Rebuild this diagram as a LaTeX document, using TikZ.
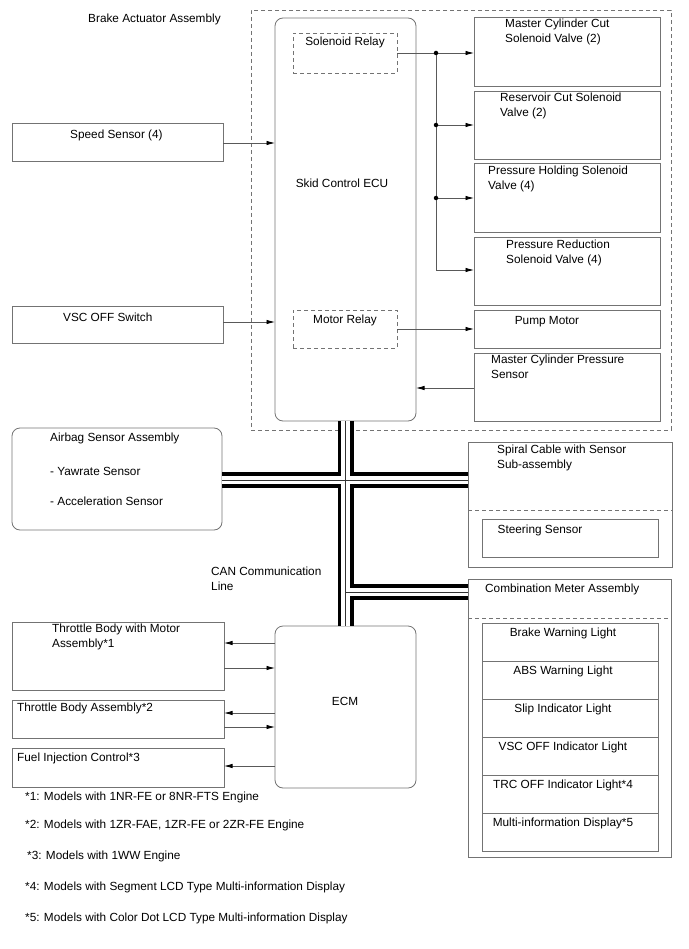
\documentclass[tikz,border=0pt]{standalone}
\usepackage{fontspec}
\setmainfont{Liberation Sans}
\usetikzlibrary{arrows.meta}
\begin{document}
\begin{tikzpicture}[x=1pt,y=-1pt,
  font=\fontsize{11.8}{15}\selectfont,
  box/.style={draw=black!55, line width=0.8pt, inner sep=0, outer sep=0, anchor=north west},
  rbox/.style={box, rounded corners=8pt},
  dbox/.style={box, dashed, dash pattern=on 4pt off 3pt},
  txt/.style={inner sep=0, align=left, yshift=-1.2pt},
  ln/.style={draw=black!65, line width=0.8pt},
  arr/.style={ln, -{Latex[length=8.5pt,width=4.5pt,color=black]}},
  dot/.style={circle, fill=black, inner sep=0, minimum size=4.5pt},
  canA/.style={line width=16pt, black},
  canB/.style={line width=8.5pt, white},
  canC/.style={line width=0.8pt, black!80},
]
\useasboundingbox (0,0) rectangle (688,949);

% ---------- Brake actuator assembly ----------
\node[dbox, minimum width=420, minimum height=420] (baa) at (251,10) {};
\node[txt, anchor=west] (baat) at (88,18) {Brake Actuator Assembly};

\node[rbox, minimum width=141, minimum height=403] (ecu) at (275,18) {};
\node[txt] (ecut) at (342,182) {Skid Control ECU};

\node[dbox, minimum width=104, minimum height=40] (solrel) at (293,33) {};
\node[txt] (solrelt) at (345,41) {Solenoid Relay};
\node[dbox, minimum width=104, minimum height=38] (motrel) at (293,310) {};
\node[txt] (motrelt) at (345,319) {Motor Relay};

% right boxes
\node[box, minimum width=186, minimum height=69] (mcc) at (474,17) {};
\node[txt, anchor=north west] (mcct) at (505,18) {Master Cylinder Cut\\Solenoid Valve (2)};
\node[box, minimum width=186, minimum height=68] (rcv) at (474,91) {};
\node[txt, anchor=north west] (rcvt) at (500,92) {Reservoir Cut Solenoid\\Valve (2)};
\node[box, minimum width=186, minimum height=69] (phv) at (474,163) {};
\node[txt, anchor=north west] (phvt) at (488,165) {Pressure Holding Solenoid\\Valve (4)};
\node[box, minimum width=186, minimum height=68] (prv) at (474,237) {};
\node[txt, anchor=north west] (prvt) at (506,239) {Pressure Reduction\\Solenoid Valve (4)};
\node[box, minimum width=186, minimum height=38] (pump) at (474,310) {};
\node[txt] (pumpt) at (547,320) {Pump Motor};
\node[box, minimum width=186, minimum height=68] (mcps) at (474,353) {};
\node[txt, anchor=north west] (mcpst) at (491,354) {Master Cylinder Pressure\\Sensor};

% solenoid relay distribution
\coordinate (j1) at (436,53);
\coordinate (j2) at (436,125);
\coordinate (j3) at (436,198);
\coordinate (j4) at (436,270);
\draw[ln] (solrel.east) -- (j1);
\draw[ln] (j1) -- (j4);
\draw[arr] (j1) -- (mcc.west |- j1);
\draw[arr] (j2) -- (rcv.west |- j2);
\draw[arr] (j3) -- (phv.west |- j3);
\draw[arr] (j4) -- (prv.west |- j4);
\node[dot] (d1) at (j1) {};
\node[dot] (d2) at (j2) {};
\node[dot] (d3) at (j3) {};

\draw[arr] (motrel.east) -- (pump.west |- motrel.east);
\draw[arr] (mcps.west |- 0,388) -- (ecu.east |- 0,388);

% left inputs
\node[box, minimum width=211, minimum height=38] (speed) at (12,123) {};
\node[txt, anchor=west] (speedt) at (70,134) {Speed Sensor (4)};
\draw[arr] (speed.east |- 0,143) -- (ecu.west |- 0,143);
\node[box, minimum width=211, minimum height=37] (vsc) at (12,306) {};
\node[txt, anchor=west] (vsct) at (63,316) {VSC OFF Switch};
\draw[arr] (vsc.east |- 0,322) -- (ecu.west |- 0,322);

% airbag
\node[rbox, minimum width=210, minimum height=102] (airbag) at (12,428) {};
\node[txt, anchor=west] (airbagt) at (50,437) {Airbag Sensor Assembly};
\node[txt, anchor=west] (yaw) at (50,470) {- Yawrate Sensor};
\node[txt, anchor=west] (acc) at (50,500) {- Acceleration Sensor};

% spiral cable
\node[box, minimum width=204, minimum height=125] (spiral) at (468,442) {};
\node[txt, anchor=north west] (spiralt) at (497,444) {Spiral Cable with Sensor\\Sub-assembly};
\draw[draw=black!55, line width=0.8pt, dash pattern=on 4pt off 3pt] (spiral.west |- 0,510) -- (spiral.east |- 0,510);
\node[box, minimum width=176, minimum height=38] (steer) at (482,519) {};
\node[txt] (steert) at (540,529) {Steering Sensor};

% combination meter
\node[box, minimum width=203, minimum height=278] (comb) at (468,579) {};
\node[txt, anchor=west] (combt) at (485,588) {Combination Meter Assembly};
\draw[draw=black!55, line width=0.8pt, dash pattern=on 4pt off 3pt] (comb.west |- 0,618) -- (comb.east |- 0,618);
\node[box, minimum width=176, minimum height=38] (r1) at (482,623) {};
\node[box, minimum width=176, minimum height=38] (r2) at (482,661) {};
\node[box, minimum width=176, minimum height=38] (r3) at (482,699) {};
\node[box, minimum width=176, minimum height=38] (r4) at (482,737) {};
\node[box, minimum width=176, minimum height=38] (r5) at (482,775) {};
\node[box, minimum width=176, minimum height=38] (r6) at (482,813) {};
\node[txt] (r1t) at (563,632) {Brake Warning Light};
\node[txt] (r2t) at (563,670) {ABS Warning Light};
\node[txt] (r3t) at (563,708) {Slip Indicator Light};
\node[txt] (r4t) at (563,746) {VSC OFF Indicator Light};
\node[txt] (r5t) at (563,784) {TRC OFF Indicator Light*4};
\node[txt] (r6t) at (563,822) {Multi-information Display*5};

% ECM
\node[rbox, minimum width=141, minimum height=162] (ecm) at (275,626) {};
\node[txt] (ecmt) at (345,700) {ECM};
\node[txt, anchor=north west] (cant) at (211,566) {CAN Communication\\Line};

\node[box, minimum width=212, minimum height=68] (tb1) at (12,622) {};
\node[txt, anchor=north west] (tb1t) at (52,623) {Throttle Body with Motor\\Assembly*1};
\draw[arr] (ecm.west |- 0,643) -- (tb1.east |- 0,643);
\draw[arr] (tb1.east |- 0,668) -- (ecm.west |- 0,668);
\node[box, minimum width=212, minimum height=38] (tb2) at (12,700) {};
\node[txt, anchor=west] (tb2t) at (17,707) {Throttle Body Assembly*2};
\draw[arr] (ecm.west |- 0,713) -- (tb2.east |- 0,713);
\draw[arr] (tb2.east |- 0,727) -- (ecm.west |- 0,727);
\node[box, minimum width=212, minimum height=39] (fic) at (12,748) {};
\node[txt, anchor=west] (fict) at (17,757) {Fuel Injection Control*3};
\draw[arr] (ecm.west |- 0,766) -- (fic.east |- 0,766);

% CAN bus
\coordinate (cb1) at (345,480);
\coordinate (cb2) at (345,592);
\foreach \s in {canA,canB,canC}{
  \draw[\s] (ecu.south) -- (ecm.north);
  \draw[\s] (airbag.east |- cb1) -- (spiral.west |- cb1);
  \draw[\s] (cb2) -- (comb.west |- cb2);
}

% footnotes
\node[txt, anchor=west] (f1) at (25,796) {*1: Models with 1NR-FE or 8NR-FTS Engine};
\node[txt, anchor=west] (f2) at (25,824) {*2: Models with 1ZR-FAE, 1ZR-FE or 2ZR-FE Engine};
\node[txt, anchor=west] (f3) at (27,855) {*3: Models with 1WW Engine};
\node[txt, anchor=west] (f4) at (25,886) {*4: Models with Segment LCD Type Multi-information Display};
\node[txt, anchor=west] (f5) at (25,917) {*5: Models with Color Dot LCD Type Multi-information Display};
\end{tikzpicture}
\end{document}
